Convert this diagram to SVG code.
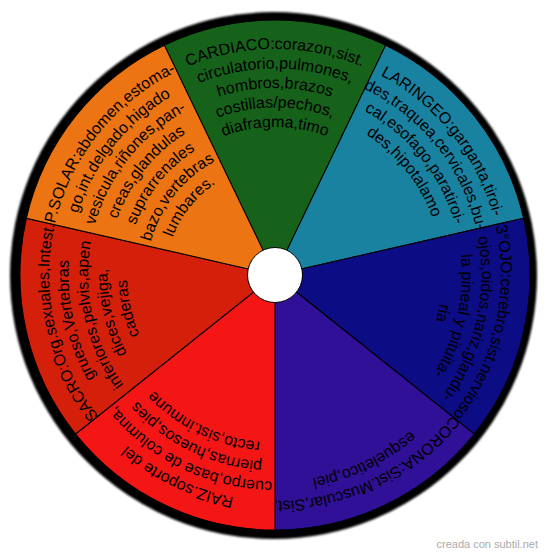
<svg xmlns="http://www.w3.org/2000/svg" xmlns:xlink="http://www.w3.org/1999/xlink" width="550" height="557" viewBox="0 0 550 557">
<style>
.sec{stroke:#000;stroke-width:1}
.t{font-family:"Liberation Sans",Arial,sans-serif;font-size:16px;fill:#000}
.wm{font-family:"Liberation Sans",Arial,sans-serif;font-size:11px;fill:#aaaaaa}
</style>
<defs>
<filter id="blur" x="-10%" y="-10%" width="120%" height="120%"><feGaussianBlur stdDeviation="1"/></filter>
<path id="sector" d="M0 0 L-110.64 -229.75 A255 255 0 0 1 110.64 -229.75 Z"/>
<path id="a0" d="M-226 0 A226 226 0 0 1 226 0"/>
<path id="a1" d="M-206.5 0 A206.5 206.5 0 0 1 206.5 0"/>
<path id="a2" d="M-187 0 A187 187 0 0 1 187 0"/>
<path id="a3" d="M-167.5 0 A167.5 167.5 0 0 1 167.5 0"/>
<path id="a4" d="M-148 0 A148 148 0 0 1 148 0"/>
<path id="a5" d="M-128.5 0 A128.5 128.5 0 0 1 128.5 0"/>
<path id="a6" d="M-109 0 A109 109 0 0 1 109 0"/>
</defs>
<rect width="550" height="557" fill="#fff"/>
<circle cx="273.5" cy="275.5" r="263.5" fill="#000" filter="url(#blur)"/>
<g transform="translate(275 275)">
<g id="cardiaco" transform="rotate(0)">
<use href="#sector" class="sec" fill="#16621a"/>
<text class="t" text-anchor="middle">
<textPath href="#a0" startOffset="50%">CARDIACO:corazon,sist.</textPath>
</text>
<text class="t" text-anchor="middle"><textPath href="#a1" startOffset="50%">circulatorio,pulmones,</textPath></text>
<text class="t" text-anchor="middle"><textPath href="#a2" startOffset="50%">hombros,brazos</textPath></text>
<text class="t" text-anchor="middle"><textPath href="#a3" startOffset="50%">costillas/pechos,</textPath></text>
<text class="t" text-anchor="middle"><textPath href="#a4" startOffset="50%">diafragma,timo</textPath></text>
</g>
<g id="laringeo" transform="rotate(51.4286)">
<use href="#sector" class="sec" fill="#1982a1"/>
<text class="t" text-anchor="middle"><textPath href="#a0" startOffset="50%">LARINGEO:garganta,tiroi-</textPath></text>
<text class="t" text-anchor="middle"><textPath href="#a1" startOffset="50%">des,traquea,cervicales,bu-</textPath></text>
<text class="t" text-anchor="middle"><textPath href="#a2" startOffset="50%">cal,esofago,paratiroi-</textPath></text>
<text class="t" text-anchor="middle"><textPath href="#a3" startOffset="50%">des,hipotalamo</textPath></text>
</g>
<g id="tercer-ojo" transform="rotate(102.8571)">
<use href="#sector" class="sec" fill="#0c0c85"/>
<text class="t" text-anchor="middle"><textPath href="#a0" startOffset="50%">3°OJO:cerebro,sist.nervioso</textPath></text>
<text class="t" text-anchor="middle"><textPath href="#a1" startOffset="50%">ojos,oidos,nariz,glandu-</textPath></text>
<text class="t" text-anchor="middle"><textPath href="#a2" startOffset="50%">la pineal y pituita-</textPath></text>
<text class="t" text-anchor="middle"><textPath href="#a3" startOffset="50%">ria</textPath></text>
</g>
<g id="corona" transform="rotate(154.2857)">
<use href="#sector" class="sec" fill="#2f1096"/>
<text class="t" text-anchor="middle"><textPath href="#a0" startOffset="50%">CORONA:Sist.Muscular,Sist,</textPath></text>
<text class="t" text-anchor="middle"><textPath href="#a1" startOffset="50%">esqueletico,piel</textPath></text>
</g>
<g id="raiz" transform="rotate(205.7143)">
<use href="#sector" class="sec" fill="#f41515"/>
<text class="t" text-anchor="middle"><textPath href="#a0" startOffset="50%">RAIZ.soporte del</textPath></text>
<text class="t" text-anchor="middle"><textPath href="#a1" startOffset="50%">cuerpo,base de columna,</textPath></text>
<text class="t" text-anchor="middle"><textPath href="#a2" startOffset="50%">piernas,huesos,pies</textPath></text>
<text class="t" text-anchor="middle"><textPath href="#a3" startOffset="50%">recto,sist.inmune</textPath></text>
</g>
<g id="sacro" transform="rotate(257.1429)">
<use href="#sector" class="sec" fill="#d41f0b"/>
<text class="t" text-anchor="middle"><textPath href="#a0" startOffset="50%">SACRO:Org.sexuales,Intest.</textPath></text>
<text class="t" text-anchor="middle"><textPath href="#a1" startOffset="50%">grueso,Vertebras</textPath></text>
<text class="t" text-anchor="middle"><textPath href="#a2" startOffset="50%">inferiores,pelvis,apen</textPath></text>
<text class="t" text-anchor="middle"><textPath href="#a3" startOffset="50%">dices,vejiga,</textPath></text>
<text class="t" text-anchor="middle"><textPath href="#a4" startOffset="50%">caderas</textPath></text>
</g>
<g id="plexo-solar" transform="rotate(308.5714)">
<use href="#sector" class="sec" fill="#ec7412"/>
<text class="t" text-anchor="middle"><textPath href="#a0" startOffset="50%">P.SOLAR:abdomen,estoma-</textPath></text>
<text class="t" text-anchor="middle"><textPath href="#a1" startOffset="50%">go,int.delgado,higado</textPath></text>
<text class="t" text-anchor="middle"><textPath href="#a2" startOffset="50%">vesicula,riñones,pan-</textPath></text>
<text class="t" text-anchor="middle"><textPath href="#a3" startOffset="50%">creas,glandulas</textPath></text>
<text class="t" text-anchor="middle"><textPath href="#a4" startOffset="50%">suprarrenales</textPath></text>
<text class="t" text-anchor="middle"><textPath href="#a5" startOffset="50%">bazo,vertebras</textPath></text>
<text class="t" text-anchor="middle"><textPath href="#a6" startOffset="50%">lumbares.</textPath></text>
</g>
<g id="centro">
<circle r="27.5" fill="#fff" stroke="#000" stroke-width="1"/>
</g>
</g>
<text class="wm" x="538" y="548" text-anchor="end">creada con subtil.net</text>
</svg>
